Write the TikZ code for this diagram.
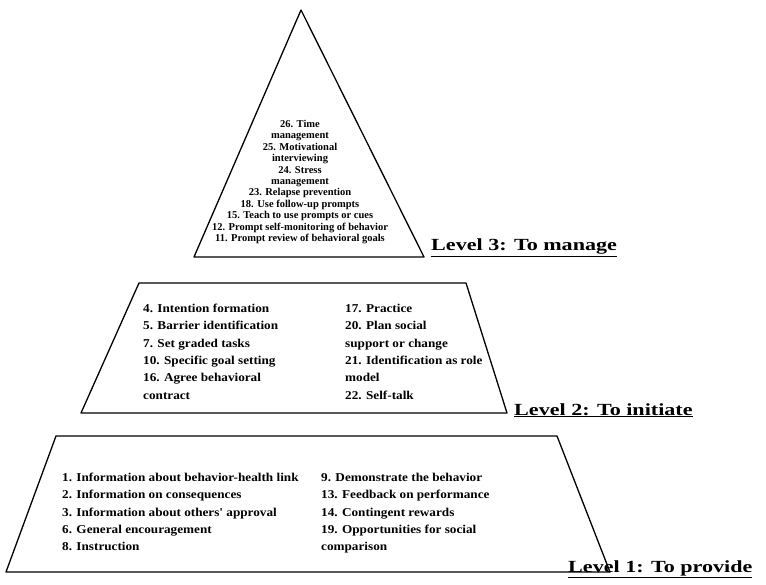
\documentclass[tikz,border=0pt]{standalone}
\usepackage{fontspec}
\setmainfont{Liberation Serif}
\newfontfamily\widefont{Liberation Serif}[FakeStretch=1.1]
\newfontfamily\widerfont{Liberation Serif}[FakeStretch=1.3]
\begin{document}
\begin{tikzpicture}[x=1pt,y=-1pt,
  shapeln/.style={draw=black,line width=1.3pt,line join=round},
  txt/.style={font=\widefont\bfseries\fontsize{12}{17.3}\selectfont,align=left,inner sep=0pt},
  toptxt/.style={font=\bfseries\fontsize{10.5}{11.4}\selectfont,align=center,inner sep=0pt},
  lvl/.style={font=\widerfont\bfseries\fontsize{17}{19}\selectfont,inner sep=0pt,anchor=base west}]
\useasboundingbox (0,0) rectangle (766,585);
\fill[white] (0,0) rectangle (766,585);
\draw[shapeln] (301,10) -- (424,257) -- (194,257) -- cycle;
\draw[shapeln] (139,283) -- (466,283) -- (507,413) -- (81,413) -- cycle;
\draw[shapeln] (56,436) -- (557,436) -- (610,572) -- (6,572) -- cycle;
\node[toptxt,anchor=north] (t3) at (300,120) {26. Time\\management\\25. Motivational\\interviewing\\24. Stress\\management\\23. Relapse prevention\\18. Use follow-up prompts\\15. Teach to use prompts or cues\\12. Prompt self-monitoring of behavior\\11. Prompt review of behavioral goals};
\node[txt,anchor=north west] (m1) at (143,304) {4. Intention formation\\5. Barrier identification\\7. Set graded tasks\\10. Specific goal setting\\16. Agree behavioral\\contract};
\node[txt,anchor=north west] (m2) at (345,304) {17. Practice\\20. Plan social\\support or change\\21. Identification as role\\model\\22. Self-talk};
\node[txt,anchor=north west] (b1) at (62,473) {1. Information about behavior-health link\\2. Information on consequences\\3. Information about others' approval\\6. General encouragement\\8. Instruction};
\node[txt,anchor=north west] (b2) at (321,473) {9. Demonstrate the behavior\\13. Feedback on performance\\14. Contingent rewards\\19. Opportunities for social\\comparison};
\node[lvl] (l3) at (431,251) {\underline{Level 3: To manage}};
\node[lvl] (l2) at (514,415) {\underline{Level 2: To initiate}};
\node[lvl] (l1) at (568,572) {\underline{Level 1: To provide}};
\end{tikzpicture}
\end{document}
